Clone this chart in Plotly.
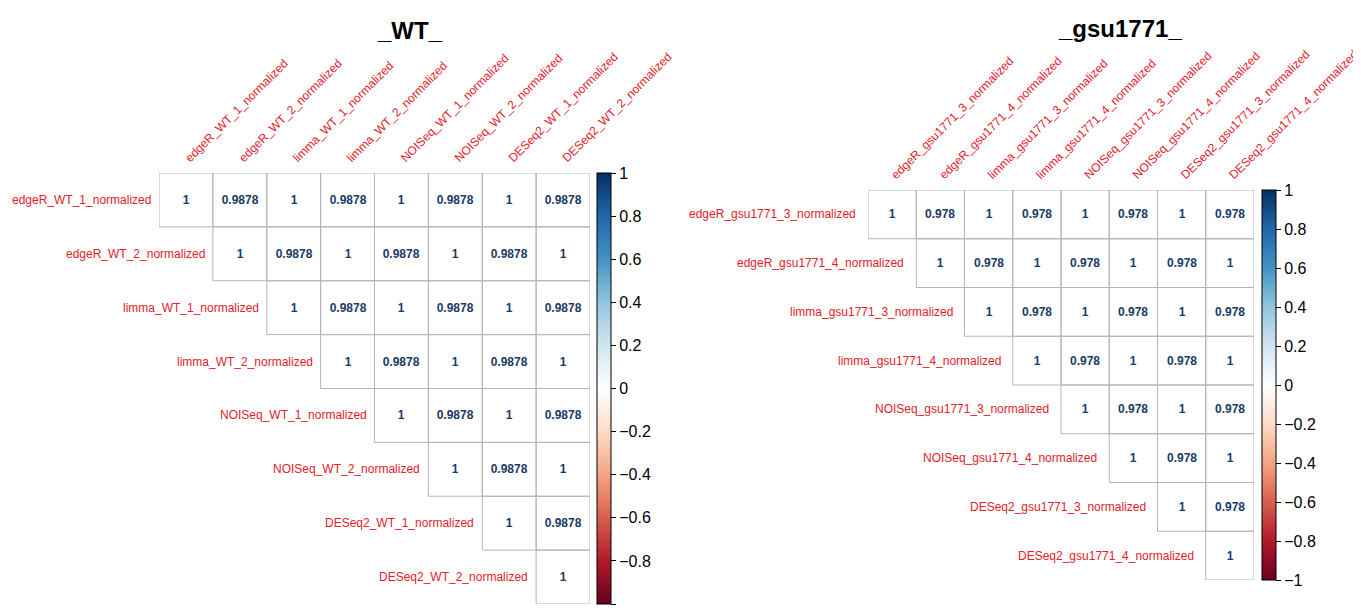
import plotly.graph_objects as go

# ---------------- data ----------------
wt_title = "_WT_"
wt_labels = [
    "edgeR_WT_1_normalized", "edgeR_WT_2_normalized",
    "limma_WT_1_normalized", "limma_WT_2_normalized",
    "NOISeq_WT_1_normalized", "NOISeq_WT_2_normalized",
    "DESeq2_WT_1_normalized", "DESeq2_WT_2_normalized",
]
wt_values = [
    [1, 0.9878, 1, 0.9878, 1, 0.9878, 1, 0.9878],
    [None, 1, 0.9878, 1, 0.9878, 1, 0.9878, 1],
    [None, None, 1, 0.9878, 1, 0.9878, 1, 0.9878],
    [None, None, None, 1, 0.9878, 1, 0.9878, 1],
    [None, None, None, None, 1, 0.9878, 1, 0.9878],
    [None, None, None, None, None, 1, 0.9878, 1],
    [None, None, None, None, None, None, 1, 0.9878],
    [None, None, None, None, None, None, None, 1],
]

gsu_title = "_gsu1771_"
gsu_labels = [
    "edgeR_gsu1771_3_normalized", "edgeR_gsu1771_4_normalized",
    "limma_gsu1771_3_normalized", "limma_gsu1771_4_normalized",
    "NOISeq_gsu1771_3_normalized", "NOISeq_gsu1771_4_normalized",
    "DESeq2_gsu1771_3_normalized", "DESeq2_gsu1771_4_normalized",
]
gsu_values = [
    [1, 0.978, 1, 0.978, 1, 0.978, 1, 0.978],
    [None, 1, 0.978, 1, 0.978, 1, 0.978, 1],
    [None, None, 1, 0.978, 1, 0.978, 1, 0.978],
    [None, None, None, 1, 0.978, 1, 0.978, 1],
    [None, None, None, None, 1, 0.978, 1, 0.978],
    [None, None, None, None, None, 1, 0.978, 1],
    [None, None, None, None, None, None, 1, 0.978],
    [None, None, None, None, None, None, None, 1],
]

colorbar_ticks = [1, 0.8, 0.6, 0.4, 0.2, 0, -0.2, -0.4, -0.6, -0.8, -1]

# ---------------- style ----------------
OFF = 8                      # page body margin added by the browser
W, H = 1361 - OFF, 610 - OFF  # figure size so it fits the window
RDBU = ["#67001F", "#B2182B", "#D6604D", "#F4A582", "#FDDBC7", "#FFFFFF",
        "#D1E5F0", "#92C5DE", "#4393C3", "#2166AC", "#053061"]
colorscale = [[i / (len(RDBU) - 1), c] for i, c in enumerate(RDBU)]
LABEL_RED = "#e4202a"
NUM_COLOR = "#1b3a66"
GRID = "#b5b5b5"
FONT = "Liberation Sans, Arial, sans-serif"


def fx(px):
    return (px - OFF) / W


def fy(px):
    return 1 - (px - OFF) / H


panels = [
    dict(title=wt_title, labels=wt_labels, values=wt_values,
         px_x=(159, 590), px_y=(173, 604), cbar_x=597, title_x=410, title_y=31,
         xa="x", ya="y", label_shift=-6),
    dict(title=gsu_title, labels=gsu_labels, values=gsu_values,
         px_x=(868, 1254), px_y=(190, 580), cbar_x=1262, title_x=1120, title_y=29,
         xa="x2", ya="y2", label_shift=-10),
]

fig = go.Figure()
shapes = []
annotations = []
layout_axes = {}

for k, p in enumerate(panels):
    n = len(p["labels"])
    idx = list(range(n))
    z = p["values"]
    text = [["" if v is None else f"{v:g}" for v in row] for row in z]
    fig.add_trace(go.Heatmap(
        z=z, x=idx, y=idx, text=text, texttemplate="<b>%{text}</b>",
        textfont=dict(color=NUM_COLOR, size=12, family=FONT),
        colorscale=[[0, "white"], [1, "white"]], showscale=False,
        hoverinfo="skip", xaxis=p["xa"], yaxis=p["ya"],
    ))
    # colour legend
    fig.add_trace(go.Scatter(
        x=[0], y=[0], mode="markers", xaxis=p["xa"], yaxis=p["ya"],
        marker=dict(color=[z[0][0]], cmin=-1, cmax=1, colorscale=colorscale,
                    opacity=0, size=1, showscale=True,
                    colorbar=dict(
                        x=fx(p["cbar_x"]), xanchor="left", thickness=14,
                        len=(p["px_y"][1] - p["px_y"][0]) / H,
                        y=fy((p["px_y"][0] + p["px_y"][1]) / 2), yanchor="middle",
                        outlinecolor="black", outlinewidth=1,
                        tickvals=colorbar_ticks, ticks="outside", ticklen=5,
                        tickcolor="black", tickfont=dict(size=16, color="black", family=FONT),
                        xpad=0, ypad=0,
                    )),
        hoverinfo="skip", showlegend=False,
    ))
    # cell borders
    for i in range(n):
        for j in range(n):
            if z[i][j] is not None:
                shapes.append(dict(type="rect", xref=p["xa"], yref=p["ya"],
                                   x0=j - 0.5, x1=j + 0.5, y0=i - 0.5, y1=i + 0.5,
                                   line=dict(color=GRID, width=1), layer="above"))
    # row labels beside the diagonal
    for i, lab in enumerate(p["labels"]):
        annotations.append(dict(text=lab, xref=p["xa"], yref=p["ya"], x=i - 0.5, y=i,
                                xanchor="right", yanchor="middle", showarrow=False,
                                xshift=p["label_shift"],
                                font=dict(color=LABEL_RED, size=12, family=FONT)))
    # title
    annotations.append(dict(text=f"<b>{p['title']}</b>", xref="paper", yref="paper",
                            x=fx(p["title_x"]), y=fy(p["title_y"]),
                            xanchor="center", yanchor="middle", showarrow=False,
                            font=dict(size=24, color="black", family=FONT)))
    suffix = "" if k == 0 else "2"
    layout_axes["xaxis" + suffix] = dict(
        domain=[fx(p["px_x"][0]), fx(p["px_x"][1])], range=[-0.5, n - 0.5],
        side="top", tickvals=idx, ticktext=p["labels"], tickangle=-45,
        tickfont=dict(color=LABEL_RED, size=12, family=FONT),
        ticklabelstandoff=5,
        showgrid=False, zeroline=False, showline=False, ticks="",
        anchor="y" + suffix, fixedrange=True,
    )
    layout_axes["yaxis" + suffix] = dict(
        domain=[fy(p["px_y"][1]), fy(p["px_y"][0])], range=[n - 0.5, -0.5],
        showticklabels=False, showgrid=False, zeroline=False, showline=False, ticks="",
        anchor="x" + suffix, fixedrange=True,
    )

fig.update_layout(
    width=W, height=H, margin=dict(l=0, r=0, t=0, b=0, autoexpand=False),
    paper_bgcolor="white", plot_bgcolor="white",
    shapes=shapes, annotations=annotations, showlegend=False,
    font=dict(family=FONT),
    **layout_axes,
)

fig.write_html("out.html")
